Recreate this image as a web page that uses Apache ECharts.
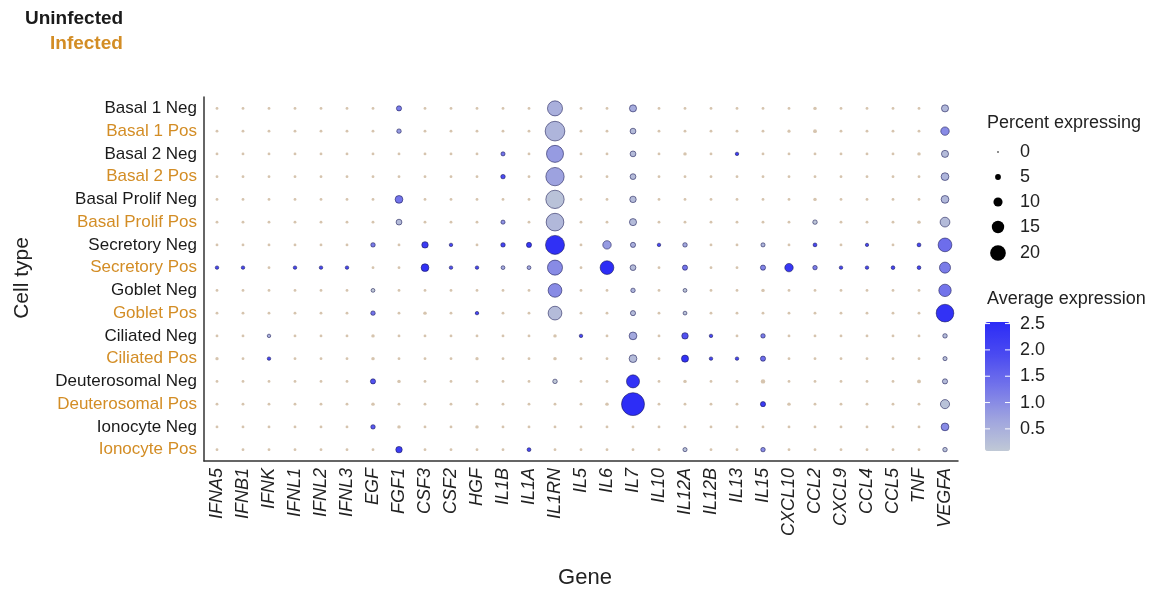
<!DOCTYPE html>
<html>
<head>
<meta charset="utf-8">
<script src="https://cdn.jsdelivr.net/npm/echarts@6/dist/echarts.min.js"></script>
<style>
  html, body { margin: 0; padding: 0; background: #fff; }
  #chart { width: 1169px; height: 592px; }
</style>
</head>
<body>
<div id="chart"></div>
<script>
const genes = ['IFNA5', 'IFNB1', 'IFNK', 'IFNL1', 'IFNL2', 'IFNL3', 'EGF', 'FGF1', 'CSF3', 'CSF2',
  'HGF', 'IL1B', 'IL1A', 'IL1RN', 'IL5', 'IL6', 'IL7', 'IL10', 'IL12A', 'IL12B',
  'IL13', 'IL15', 'CXCL10', 'CCL2', 'CXCL9', 'CCL4', 'CCL5', 'TNF', 'VEGFA'];

const cellTypes = ['Basal 1 Neg', 'Basal 1 Pos', 'Basal 2 Neg', 'Basal 2 Pos',
  'Basal Prolif Neg', 'Basal Prolif Pos', 'Secretory Neg', 'Secretory Pos',
  'Goblet Neg', 'Goblet Pos', 'Ciliated Neg', 'Ciliated Pos',
  'Deuterosomal Neg', 'Deuterosomal Pos', 'Ionocyte Neg', 'Ionocyte Pos'];

// percent expressing, one row per cell type, columns follow genes
const pct = [
  [.5,.5,.5,.5,.5, .5,.5,4,.5,.5, .5,.5,.5,19,.5, .5,7,.5,.5,.5, .5,.5,.5,1.5,.5, .5,.5,.5,7],
  [.5,.5,.5,.5,.5, .5,.5,3,.5,.5, .5,.5,.5,26,.5, .5,5,.5,.5,.5, .5,.5,1,2,.5, .5,.5,.5,9],
  [.5,.5,.5,.5,.5, .5,.5,.5,.5,.5, .5,2.5,.5,22,.5, .5,5,.5,1.5,.5, 1.5,.5,.5,.5,.5, .5,.5,1.5,7],
  [.5,.5,.5,.5,.5, .5,.5,.5,.5,.5, .5,3,.5,24,.5, .5,5,.5,.5,.5, .5,.5,.5,.5,.5, .5,.5,.5,8],
  [.5,.5,.5,.5,.5, .5,.5,8,.5,.5, .5,.5,.5,24,.5, .5,6,.5,.5,.5, .5,.5,.5,1.5,.5, .5,.5,.5,8],
  [.5,.5,.5,.5,.5, .5,.5,5,.5,.5, .5,2.5,.5,23,.5, .5,7,.5,.5,.5, .5,.5,.5,3,.5, .5,.5,1.5,11],
  [.5,.5,.5,.5,.5, .5,3,.5,6,1.5, .5,3,4,25,.5, 9,4,1.5,3,.5, .5,2.5,.5,2,.5, 1.2,.5,2,17],
  [1.5,1.5,.5,1.5,1.5, 1.5,.5,.5,8,1.5, 1.5,2,2,19,.5, 17,5,.5,4,.5, .5,4,9,3,1.5, 1.5,1.8,1.8,13],
  [.5,.5,.5,.5,.5, .5,2,.5,.5,.5, .5,.5,.5,17,.5, .5,3,.5,2,.5, .5,1.5,.5,.5,.5, .5,.5,.5,15],
  [.5,.5,.5,.5,.5, .5,3,.5,1.5,.5, 1.5,.5,.5,17,.5, .5,4,.5,2,.5, .5,.5,.5,.5,.5, .5,.5,.5,23],
  [.5,.5,1.5,.5,.5, .5,1.5,.5,.5,.5, .5,.5,.5,1.5,1.5, .5,8,.5,6,1.5, .5,3,.5,.5,.5, .5,.5,.5,3],
  [1.2,.5,1.5,.5,.5, .5,1.5,.5,.5,.5, 1.2,.5,.5,1.5,.5, .5,8,.5,7,1.5, 1.5,4,.5,.5,.5, .5,.5,.5,2.5],
  [.5,.5,.5,.5,.5, .5,4,1.5,.5,.5, .5,.5,.5,3,.5, .5,16,.5,1.5,.5, .5,3,.5,.5,.5, .5,.5,2,4],
  [.5,.5,.5,.5,.5, .5,1.5,.5,.5,.5, .5,.5,.5,.5,.5, 1.5,31,.5,.5,.5, .5,4,1.5,.5,.5, .5,.5,.5,10],
  [.5,.5,.5,.5,.5, .5,3,1.5,.5,.5, 1.5,.5,.5,.5,.5, .5,.5,.5,.5,.5, .5,.5,.5,.5,.5, .5,.5,.5,8],
  [.5,.5,.5,.5,.5, .5,.5,6,.5,.5, .5,.5,2,.5,.5, .5,.5,.5,2.5,.5, .5,3,.5,.5,.5, .5,.5,.5,3]
];

// average expression, same layout
const expr = [
  [0,0,0,0,0, 0,0,1.2,0,0, 0,0,0,.5,0, 0,.55,0,0,0, 0,0,0,0,0, 0,0,0,.35],
  [0,0,0,0,0, 0,0,.8,0,0, 0,0,0,.4,0, 0,.3,0,0,0, 0,0,0,0,0, 0,0,0,1.0],
  [0,0,0,0,0, 0,0,0,0,0, 0,1.3,0,.8,0, 0,.3,0,0,0, 2.2,0,0,0,0, 0,0,0,.3],
  [0,0,0,0,0, 0,0,0,0,0, 0,1.9,0,.7,0, 0,.3,0,0,0, 0,0,0,0,0, 0,0,0,.4],
  [0,0,0,0,0, 0,0,1.3,0,0, 0,0,0,.2,0, 0,.3,0,0,0, 0,0,0,0,0, 0,0,0,.35],
  [0,0,0,0,0, 0,0,.3,0,0, 0,.9,0,.35,0, 0,.3,0,0,0, 0,0,0,.15,0, 0,0,0,.3],
  [0,0,0,0,0, 0,1.2,0,2.2,2.0, 0,2.0,2.3,2.45,0, .8,.5,2.0,.6,0, 0,.4,0,2.0,0, 2.0,0,2.0,1.4],
  [2,2,0,2,2, 2,0,0,2.4,1.8, 2,.6,.6,1.0,0, 2.5,.3,0,1.3,0, 0,1.1,2.3,1.2,2, 2,2,2,1.2],
  [0,0,0,0,0, 0,.1,0,0,0, 0,0,0,1.0,0, 0,.4,0,.15,0, 0,0,0,0,0, 0,0,0,1.3],
  [0,0,0,0,0, 0,1.3,0,0,0, 2.0,0,0,.3,0, 0,.3,0,.2,0, 0,0,0,0,0, 0,0,0,2.4],
  [0,0,.5,0,0, 0,0,0,0,0, 0,0,0,0,2.0, 0,.6,0,1.8,2.0, 0,1.2,0,0,0, 0,0,0,.3],
  [0,0,2.0,0,0, 0,0,0,0,0, 0,0,0,0,0, 0,.3,0,2.4,2.0, 2.0,1.4,0,0,0, 0,0,0,.25],
  [0,0,0,0,0, 0,1.8,0,0,0, 0,0,0,.1,0, 0,2.4,0,0,0, 0,0,0,0,0, 0,0,0,.3],
  [0,0,0,0,0, 0,0,0,0,0, 0,0,0,0,0, 0,2.5,0,0,0, 0,2.2,0,0,0, 0,0,0,.2],
  [0,0,0,0,0, 0,1.7,0,0,0, 0,0,0,0,0, 0,0,0,0,0, 0,0,0,0,0, 0,0,0,1.0],
  [0,0,0,0,0, 0,0,2.2,0,0, 0,0,2.0,0,0, 0,0,0,.2,0, 0,1.0,0,0,0, 0,0,0,.2]
];

const sizeTicks = [0, 5, 10, 15, 20];
const colorTicks = [2.5, 2.0, 1.5, 1.0, 0.5];
const exprMin = 0.08;
const exprMax = 2.53;

const FONT = "'Liberation Sans', Arial, sans-serif";
const ORANGE = '#d38d25';

function sizeOf(p) {
  return 2.5 + 0.66 * p;
}

const low = [];
const high = [];
for (let r = 0; r < cellTypes.length; r++) {
  for (let c = 0; c < genes.length; c++) {
    const item = [c, r, pct[r][c], expr[r][c]];
    if (expr[r][c] < exprMin) low.push(item); else high.push(item);
  }
}

const myChart = echarts.init(document.getElementById('chart'));

// legend bits
const barTop = 322, barH = 129, barLeft = 985, barW = 25;
const legendGraphics = [];
legendGraphics.push({
  type: 'text', left: 987, top: 114,
  style: { text: 'Percent expressing', font: '18px ' + FONT, fill: '#222' }
});
const sizeY = [152, 177, 202, 227, 253];
sizeTicks.forEach((v, i) => {
  legendGraphics.push({
    type: 'circle', shape: { cx: 998, cy: sizeY[i], r: Math.max(sizeOf(v) / 2 - (v === 0 ? 0.6 : 0), 0.8) },
    style: { fill: '#000' }
  });
  legendGraphics.push({
    type: 'text', x: 1020, y: sizeY[i],
    style: { text: String(v), font: '18px ' + FONT, fill: '#222', verticalAlign: 'middle' }
  });
});
legendGraphics.push({
  type: 'text', left: 987, top: 290,
  style: { text: 'Average expression', font: '18px ' + FONT, fill: '#222' }
});
colorTicks.forEach(v => {
  const y = barTop + barH - (v - exprMin) / (exprMax - exprMin) * barH;
  legendGraphics.push({
    type: 'text', x: 1020, y: y,
    style: { text: v.toFixed(1), font: '18px ' + FONT, fill: '#222', verticalAlign: 'middle' }
  });
  legendGraphics.push({
    type: 'line', shape: { x1: barLeft, y1: y, x2: barLeft + 5, y2: y },
    style: { stroke: '#fff', lineWidth: 1 }, z: 100
  });
  legendGraphics.push({
    type: 'line', shape: { x1: barLeft + barW - 5, y1: y, x2: barLeft + barW, y2: y },
    style: { stroke: '#fff', lineWidth: 1 }, z: 100
  });
});

const option = {
  backgroundColor: '#fff',
  animation: false,
  grid: { left: 204, right: 211, top: 97, bottom: 131 },
  xAxis: {
    type: 'category',
    data: genes,
    axisLine: { lineStyle: { color: '#333', width: 1.5 } },
    axisTick: { alignWithLabel: true, length: 4, lineStyle: { color: '#333' } },
    axisLabel: {
      rotate: 90, fontSize: 18, fontStyle: 'italic', color: '#222',
      fontFamily: FONT, margin: 7, interval: 0
    },
    splitLine: { show: false }
  },
  yAxis: {
    type: 'category',
    data: cellTypes,
    inverse: true,
    axisLine: { lineStyle: { color: '#333', width: 1.5 } },
    axisTick: { alignWithLabel: true, length: 4, lineStyle: { color: '#333' } },
    axisLabel: {
      fontSize: 17, fontFamily: FONT, margin: 7, interval: 0,
      color: (val, idx) => (idx % 2 === 0 ? '#1a1a1a' : ORANGE)
    },
    splitLine: { show: false }
  },
  visualMap: {
    type: 'continuous',
    seriesIndex: 1,
    dimension: 3,
    min: exprMin,
    max: exprMax,
    calculable: false,
    hoverLink: false,
    left: barLeft - 15,
    top: barTop - 15,
    itemWidth: barW,
    itemHeight: barH,
    text: null,
    inRange: { color: ['#c0c9d6', '#9ea3df', '#7374ea', '#4a4af1', '#2c2cf6'] }
  },
  series: [
    {
      name: 'low',
      type: 'scatter',
      data: low,
      symbolSize: v => sizeOf(v[2]),
      itemStyle: { color: '#d6c4ae', opacity: 1 }
    },
    {
      name: 'high',
      type: 'scatter',
      data: high,
      symbolSize: v => sizeOf(v[2]),
      itemStyle: { opacity: 1, borderColor: 'rgba(20,20,80,0.55)', borderWidth: 1 }
    }
  ],
  graphic: [
    { type: 'text', left: 25, top: 9,
      style: { text: 'Uninfected', font: 'bold 19px ' + FONT, fill: '#1a1a1a' } },
    { type: 'text', left: 50, top: 34,
      style: { text: 'Infected', font: 'bold 19px ' + FONT, fill: ORANGE } },
    { type: 'text', x: 22, y: 278, rotation: Math.PI / 2,
      style: { text: 'Cell type', font: '21px ' + FONT, fill: '#222', align: 'center', verticalAlign: 'middle' } },
    { type: 'text', x: 585, y: 578,
      style: { text: 'Gene', font: '22px ' + FONT, fill: '#222', align: 'center', verticalAlign: 'middle' } }
  ].concat(legendGraphics)
};

myChart.setOption(option);
</script>
</body>
</html>
